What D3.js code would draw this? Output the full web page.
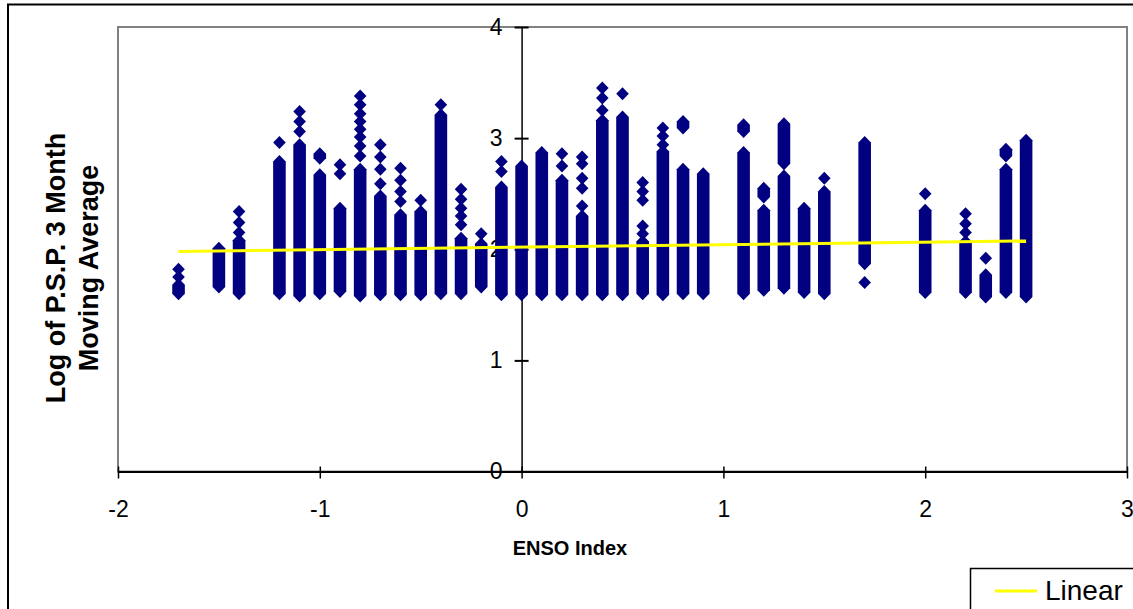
<!DOCTYPE html>
<html>
<head>
<meta charset="utf-8">
<script src="https://cdn.jsdelivr.net/npm/d3@7"></script>
<style>
  body { margin: 0; background: #fff; }
  svg { display: block; font-family: Arial, "Liberation Sans", sans-serif; }
</style>
</head>
<body>
<div id="chart"></div>
<script>
// ENSO index vs log P.S.P. - each row is one run of stacked points
// (lo == hi means a single diamond)
const runEnso = [
  -1.7, -1.7, -1.7,
  -1.5,
  -1.4, -1.4, -1.4, -1.4,
  -1.2, -1.2,
  -1.1, -1.1, -1.1, -1.1,
  -1.0, -1.0,
  -0.9, -0.9, -0.9,
  -0.8, -0.8, -0.8, -0.8, -0.8, -0.8, -0.8, -0.8, -0.8,
  -0.7, -0.7, -0.7, -0.7, -0.7,
  -0.6, -0.6, -0.6, -0.6, -0.6,
  -0.5, -0.5,
  -0.4, -0.4,
  -0.3, -0.3, -0.3, -0.3, -0.3, -0.3,
  -0.2, -0.2,
  -0.1, -0.1, -0.1,
  0.0,
  0.1,
  0.2, 0.2, 0.2,
  0.3, 0.3, 0.3, 0.3, 0.3, 0.3,
  0.4, 0.4, 0.4, 0.4,
  0.5, 0.5,
  0.6, 0.6, 0.6, 0.6, 0.6, 0.6,
  0.7, 0.7, 0.7, 0.7,
  0.8, 0.8,
  0.9,
  1.1, 1.1,
  1.2, 1.2,
  1.3, 1.3,
  1.4,
  1.5, 1.5,
  1.7, 1.7,
  2.0, 2.0,
  2.2, 2.2, 2.2, 2.2,
  2.3, 2.3,
  2.4, 2.4,
  2.5
];
const runLow = [
  1.82, 1.75, 1.60,
  1.66,
  2.34, 2.24, 2.15, 1.60,
  2.96, 1.60,
  3.24, 3.15, 3.06, 1.58,
  2.82, 1.60,
  2.76, 2.68, 1.62,
  3.38, 3.30, 3.22, 3.15, 3.08, 3.01, 2.93, 2.84, 1.58,
  2.94, 2.83, 2.72, 2.59, 1.59,
  2.73, 2.62, 2.52, 2.43, 1.59,
  2.44, 1.59,
  3.30, 1.60,
  2.54, 2.45, 2.37, 2.30, 2.22, 1.60,
  2.14, 1.66,
  2.79, 2.70, 1.59,
  1.59,
  1.59,
  2.86, 2.75, 1.59,
  2.83, 2.77, 2.64, 2.55, 2.39, 1.59,
  3.45, 3.36, 3.25, 1.59,
  3.40, 1.59,
  2.60, 2.52, 2.44, 2.21, 2.14, 1.60,
  3.09, 3.02, 2.94, 1.59,
  3.09, 1.60,
  1.60,
  3.06, 1.60,
  2.47, 1.63,
  2.77, 1.65,
  1.61,
  2.64, 1.60,
  1.87, 1.70,
  2.50, 1.61,
  2.32, 2.23, 2.15, 1.61,
  1.92, 1.57,
  2.84, 1.61,
  1.57
];
const runHigh = [
  1.82, 1.75, 1.68,
  2.01,
  2.34, 2.24, 2.15, 2.08,
  2.96, 2.79,
  3.24, 3.15, 3.06, 2.94,
  2.86, 2.67,
  2.76, 2.68, 2.37,
  3.38, 3.30, 3.22, 3.15, 3.08, 3.01, 2.93, 2.84, 2.72,
  2.94, 2.83, 2.72, 2.59, 2.48,
  2.73, 2.62, 2.52, 2.43, 2.31,
  2.44, 2.34,
  3.30, 3.21,
  2.54, 2.45, 2.37, 2.30, 2.22, 2.10,
  2.14, 2.05,
  2.79, 2.70, 2.56,
  2.75,
  2.87,
  2.86, 2.75, 2.62,
  2.83, 2.77, 2.64, 2.55, 2.39, 2.30,
  3.45, 3.36, 3.25, 3.16,
  3.40, 3.19,
  2.60, 2.52, 2.44, 2.21, 2.14, 2.07,
  3.09, 3.02, 2.94, 2.88,
  3.15, 2.72,
  2.68,
  3.12, 2.87,
  2.55, 2.35,
  3.13, 2.66,
  2.37,
  2.64, 2.52,
  2.96, 1.70,
  2.50, 2.35,
  2.32, 2.23, 2.15, 2.07,
  1.92, 1.77,
  2.90, 2.72,
  2.98
];

// linear trendline end points
const trendX = [-1.7, 2.5];
const trendY = [1.98, 2.075];

const xTicks = [-2, -1, 0, 1, 2, 3];
const yTicks = [0, 1, 2, 3, 4];

const width = 1133;
const height = 609;

const svg = d3.select("#chart")
  .append("svg")
  .attr("width", width)
  .attr("height", height);

svg.append("rect")
  .attr("width", width)
  .attr("height", height)
  .attr("fill", "#fff");

// outer chart border (runs off the right/bottom edge)
svg.append("rect")
  .attr("x", 8)
  .attr("y", 4.5)
  .attr("width", 1200)
  .attr("height", 700)
  .attr("fill", "none")
  .attr("stroke", "#000")
  .attr("stroke-width", 2);

const x = d3.scaleLinear().domain([-2, 3]).range([118, 1127]);
const y = d3.scaleLinear().domain([0, 4]).range([471.5, 27]);

// plot area border
svg.append("rect")
  .attr("x", x(-2))
  .attr("y", y(4))
  .attr("width", x(3) - x(-2))
  .attr("height", y(0) - y(4))
  .attr("fill", "none")
  .attr("stroke", "#808080")
  .attr("stroke-width", 2);

const plainNum = d => String(d);

// x axis
const xAxis = svg.append("g")
  .attr("transform", `translate(0,${y(0)})`)
  .call(d3.axisBottom(x).tickValues(xTicks).tickFormat(plainNum)
    .tickSize(7).tickSizeOuter(0).tickPadding(22));
xAxis.select(".domain").attr("stroke", "#000").attr("stroke-width", 2);
xAxis.selectAll(".tick line").attr("y1", -5).attr("stroke-width", 1.5);
xAxis.selectAll(".tick text")
  .attr("font-size", 23)
  .attr("font-family", "Arial, 'Liberation Sans', sans-serif")
  .attr("fill", "#000");

// y axis crosses at x = 0
const yAxis = svg.append("g")
  .attr("transform", `translate(${x(0)},0)`)
  .call(d3.axisLeft(y).tickValues(yTicks).tickFormat(plainNum)
    .tickSize(7).tickSizeOuter(0).tickPadding(12));
yAxis.select(".domain").attr("stroke", "#000").attr("stroke-width", 1.5);
yAxis.selectAll(".tick line").attr("x1", 7).attr("stroke-width", 2);
yAxis.selectAll(".tick text")
  .attr("font-size", 23)
  .attr("font-family", "Arial, 'Liberation Sans', sans-serif")
  .attr("fill", "#000");

// stacked diamond markers
const hw = 6.3, hh = 6.5;
const runs = runEnso.map((e, i) => ({ enso: e, lo: runLow[i], hi: runHigh[i] }));

svg.append("g")
  .selectAll("path")
  .data(runs)
  .enter()
  .append("path")
  .attr("fill", "#000080")
  .attr("d", d => {
    const cx = x(d.enso), yt = y(d.hi), yb = y(d.lo);
    return `M${cx},${yt - hh}L${cx + hw},${yt}L${cx + hw},${yb}L${cx},${yb + hh}L${cx - hw},${yb}L${cx - hw},${yt}Z`;
  });

// trendline
svg.append("line")
  .attr("x1", x(trendX[0]))
  .attr("y1", y(trendY[0]))
  .attr("x2", x(trendX[1]))
  .attr("y2", y(trendY[1]))
  .attr("stroke", "#ffff00")
  .attr("stroke-width", 3);

// axis titles
svg.append("text")
  .attr("x", 570)
  .attr("y", 555)
  .attr("text-anchor", "middle")
  .attr("font-size", 20)
  .attr("font-weight", "bold")
  .text("ENSO Index");

const yTitle = ["Log of P.S.P. 3 Month", "Moving Average"];
svg.selectAll(".ytitle")
  .data(yTitle)
  .enter()
  .append("text")
  .attr("class", "ytitle")
  .attr("transform", (d, i) => `translate(${65 + i * 33},268) rotate(-90)`)
  .attr("text-anchor", "middle")
  .attr("font-size", 27)
  .attr("font-weight", "bold")
  .text(d => d);

// legend
const legend = svg.append("g");
legend.append("rect")
  .attr("x", 970.5)
  .attr("y", 568.5)
  .attr("width", 200)
  .attr("height", 80)
  .attr("fill", "#fff")
  .attr("stroke", "#000")
  .attr("stroke-width", 1.5);
legend.append("line")
  .attr("x1", 995)
  .attr("x2", 1037)
  .attr("y1", 591)
  .attr("y2", 591)
  .attr("stroke", "#ffff00")
  .attr("stroke-width", 3);
legend.append("text")
  .attr("x", 1045)
  .attr("y", 600)
  .attr("font-size", 28)
  .text("Linear");
</script>
</body>
</html>
